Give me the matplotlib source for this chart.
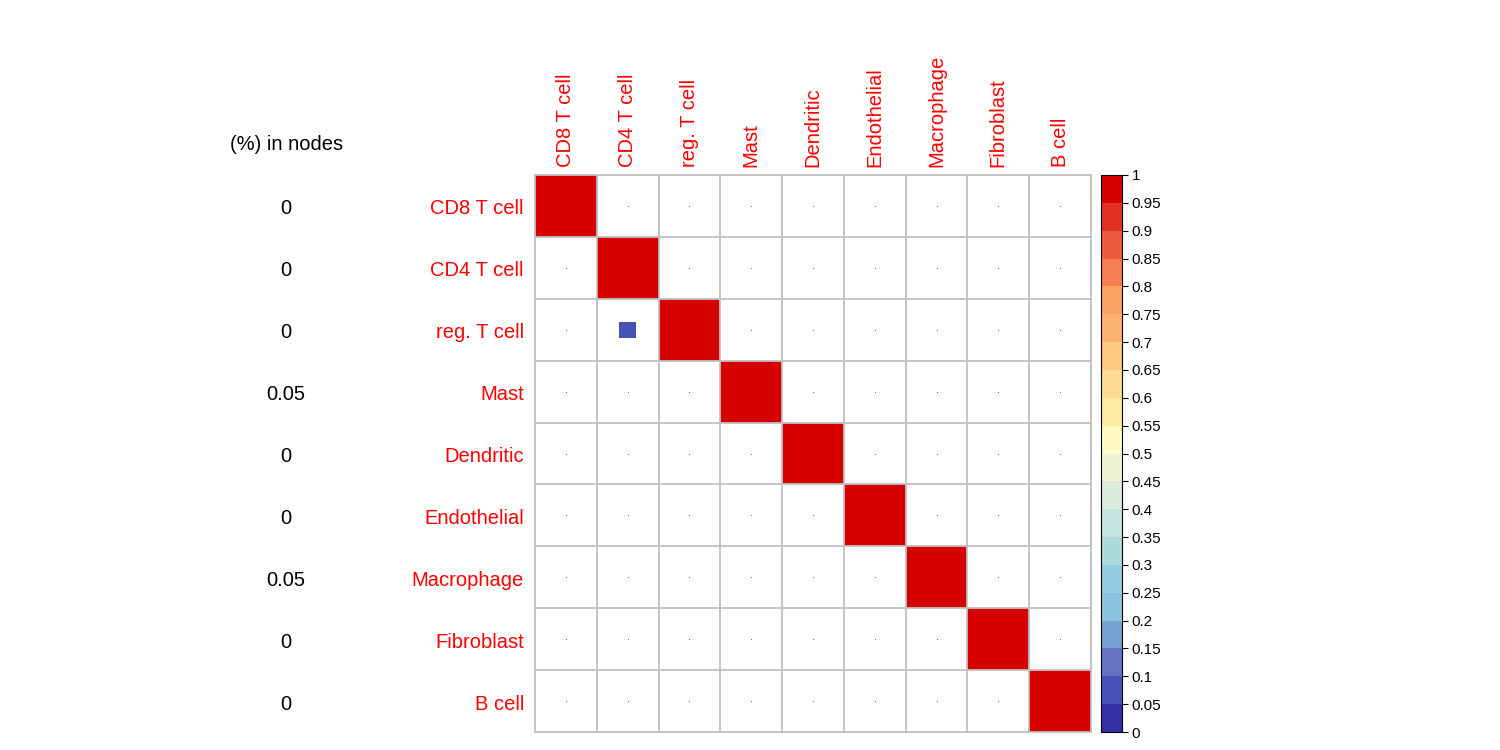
import matplotlib
matplotlib.use("Agg")
import matplotlib.pyplot as plt
import numpy as np
from matplotlib.colors import ListedColormap, BoundaryNorm
from matplotlib.patches import Rectangle
import matplotlib.transforms as mtransforms

plt.rcParams['font.family'] = ['Liberation Sans', 'DejaVu Sans']

# cell types (rows and columns)
cellTypes = ["CD8 T cell", "CD4 T cell", "reg. T cell", "Mast", "Dendritic",
             "Endothelial", "Macrophage", "Fibroblast", "B cell"]
# percent in nodes
nodePct = ["0", "0", "0", "0.05", "0", "0", "0.05", "0", "0"]
# off-diagonal non-zero entries (row, col, value)
offRows = [2]
offCols = [1]
offVals = [0.07]
diagVal = 1.0

# 20-step palette, blue -> yellow -> red
palette = ["#3331a6", "#4551b4", "#6573c3", "#74a1d0", "#8ac3dd", "#93cde1",
           "#abd9dc", "#c4e3dc", "#dbebd9", "#eef4d2", "#fff9c3", "#feeba3",
           "#fedb92", "#fdc981", "#fdb272", "#fca263", "#f77d52", "#ee5a3c",
           "#e13120", "#d60000"]
cmap = ListedColormap(palette)
bounds = np.linspace(0, 1, 21)
norm = BoundaryNorm(bounds, cmap.N)

n = len(cellTypes)
mat = np.zeros((n, n))
for i in range(n):
    mat[i, i] = diagVal
for r, c, v in zip(offRows, offCols, offVals):
    mat[r, c] = v

fig = plt.figure(figsize=(15, 7.5), dpi=100)
ax = fig.add_axes([535/1500, 18/750, 556/1500, 557/750])
ax.set_xlim(0, n)
ax.set_ylim(n, 0)
ax.set_aspect("auto")
ax.axis("off")

# squares (side ~ sqrt(value)), zeros shown as tiny dots
for i in range(n):
    for j in range(n):
        v = mat[i, j]
        if v > 0:
            s = np.sqrt(abs(v))
            ax.add_patch(Rectangle((j + 0.5 - s/2, i + 0.5 - s/2), s, s,
                                   facecolor=cmap(norm(v)), edgecolor="none", zorder=1))
        else:
            ax.plot(j + 0.5, i + 0.5, marker="s", ms=0.6, mew=0, color="#666666", zorder=1)

# grid
for k in range(n + 1):
    ax.plot([k, k], [0, n], color="#c0c0c0", lw=1.3, zorder=2, clip_on=False)
    ax.plot([0, n], [k, k], color="#c0c0c0", lw=1.3, zorder=2, clip_on=False)

# labels
off = mtransforms.offset_copy(ax.transData, fig=fig, x=-11, y=-3, units="dots")
for i, lab in enumerate(cellTypes):
    ax.text(0, i + 0.5, lab, transform=off, ha="right", va="center",
            color="red", fontsize=14.5)
offTop = mtransforms.offset_copy(ax.transData, fig=fig, x=0, y=8, units="dots")
for j, lab in enumerate(cellTypes):
    ax.text(j + 0.5, 0, lab, transform=offTop, ha="center", va="bottom",
            rotation=90, color="red", fontsize=14.5)

# nodes column
blend = mtransforms.blended_transform_factory(fig.transFigure, ax.transData)
blendOff = mtransforms.offset_copy(blend, fig=fig, x=0, y=-3, units="dots")
for i, p in enumerate(nodePct):
    ax.text(286/1500, i + 0.5, p, transform=blendOff, ha="center", va="center",
            color="black", fontsize=14.5)
fig.text(287/1500, 1 - 145/750, "(%) in nodes", ha="center", va="center",
         color="black", fontsize=14.5)

# colorbar
cax = fig.add_axes([1101/1500, 18/750, 21/1500, 557/750])
sm = plt.cm.ScalarMappable(cmap=cmap, norm=norm)
cb = fig.colorbar(sm, cax=cax, ticks=bounds)
cb.ax.set_yticklabels(["%g" % round(b, 2) for b in bounds])
cb.ax.tick_params(labelsize=11, length=4, width=0.8, pad=3)
cb.outline.set_linewidth(0.8)

plt.savefig("out.png", dpi=100)
